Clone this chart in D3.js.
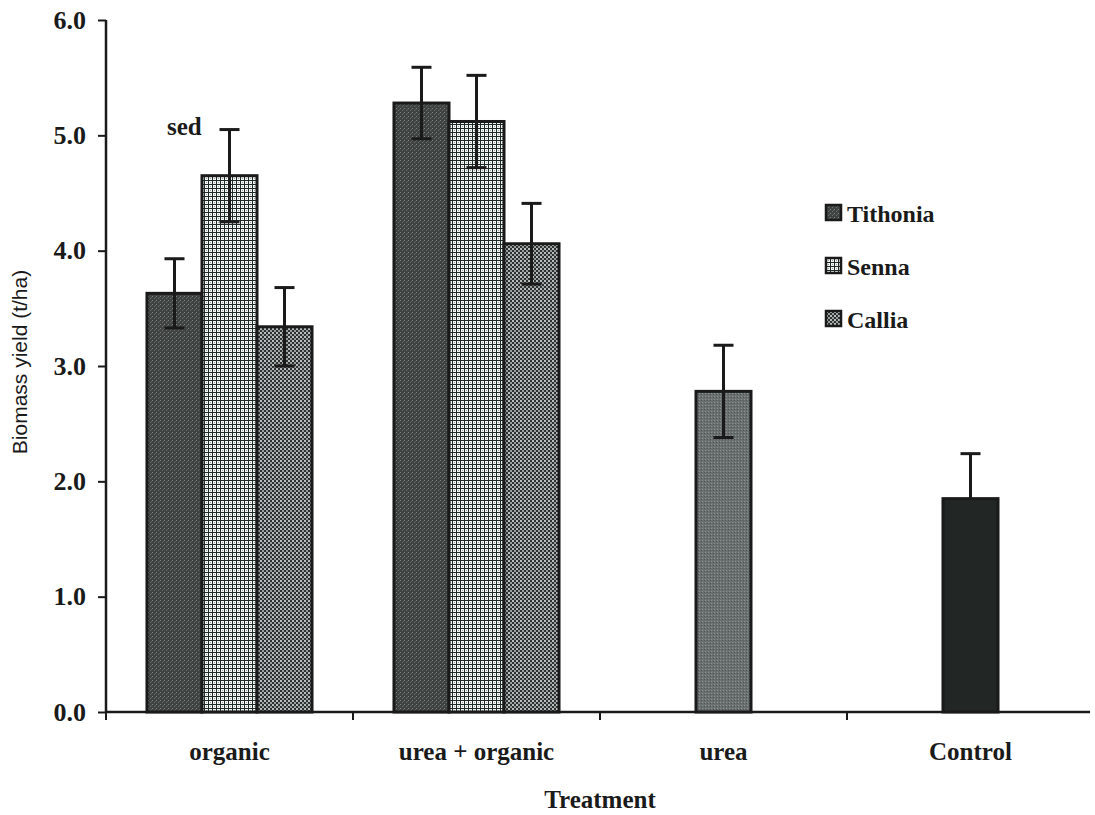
<!DOCTYPE html>
<html>
<head>
<meta charset="utf-8">
<script src="https://cdn.jsdelivr.net/npm/d3@7"></script>
<style>
  body { margin: 0; background: #fff; }
  text { fill: #1a1a1a; }
  .serif { font-family: "Liberation Serif", "DejaVu Serif", serif; font-weight: bold; }
</style>
</head>
<body>
<div class="graphic"></div>
<script>
// data
var treatments = ["organic", "urea + organic", "urea", "Control"];
var species = ["Tithonia", "Senna", "Callia"];
var organicVals = [3.63, 4.65, 3.34];
var organicSed = [0.30, 0.40, 0.34];
var ureaOrganicVals = [5.28, 5.12, 4.06];
var ureaOrganicSed = [0.31, 0.40, 0.35];
var singleVals = [2.78, 1.85];   // urea, Control
var singleSed = [0.40, 0.39];
var yTicks = [0, 1, 2, 3, 4, 5, 6];

var width = 1095, height = 815;
var svg = d3.select(".graphic").append("svg")
  .attr("width", width).attr("height", height);

var defs = svg.append("defs");

// Tithonia: dark speckled grey
var p1 = defs.append("pattern").attr("id", "pTith")
  .attr("patternUnits", "userSpaceOnUse").attr("width", 4).attr("height", 4);
p1.append("rect").attr("width", 4).attr("height", 4).attr("fill", "#3f4443");
p1.append("rect").attr("x", 0).attr("y", 0).attr("width", 1).attr("height", 1).attr("fill", "#7d8281");
p1.append("rect").attr("x", 2).attr("y", 2).attr("width", 1).attr("height", 1).attr("fill", "#6b706f");
p1.append("rect").attr("x", 3).attr("y", 1).attr("width", 1).attr("height", 1).attr("fill", "#5a5f5e");

// Senna: white cells in a dark grid
var p2 = defs.append("pattern").attr("id", "pSenna")
  .attr("patternUnits", "userSpaceOnUse").attr("width", 4).attr("height", 4);
p2.append("rect").attr("width", 4).attr("height", 4).attr("fill", "#1e2a28");
p2.append("rect").attr("x", 1).attr("y", 1).attr("width", 3).attr("height", 3).attr("fill", "#f4f6f4");
p2.append("rect").attr("x", 2).attr("y", 2).attr("width", 1).attr("height", 1).attr("fill", "#9aa09e");

// Callia: fine checker
var p3 = defs.append("pattern").attr("id", "pCallia")
  .attr("patternUnits", "userSpaceOnUse").attr("width", 4).attr("height", 4);
p3.append("rect").attr("width", 4).attr("height", 4).attr("fill", "#2c3231");
p3.append("rect").attr("x", 0).attr("y", 0).attr("width", 2).attr("height", 2).attr("fill", "#b9bebc");
p3.append("rect").attr("x", 2).attr("y", 2).attr("width", 2).attr("height", 2).attr("fill", "#9a9f9d");

// urea: mid grey speckle
var p4 = defs.append("pattern").attr("id", "pUrea")
  .attr("patternUnits", "userSpaceOnUse").attr("width", 3).attr("height", 3);
p4.append("rect").attr("width", 3).attr("height", 3).attr("fill", "#6a6f70");
p4.append("rect").attr("x", 0).attr("y", 0).attr("width", 1).attr("height", 1).attr("fill", "#8d9192");
p4.append("rect").attr("x", 2).attr("y", 1).attr("width", 1).attr("height", 1).attr("fill", "#505556");

var fills = { Tithonia: "url(#pTith)", Senna: "url(#pSenna)", Callia: "url(#pCallia)" };
var singleFills = ["url(#pUrea)", "#222726"];

var x = d3.scaleBand().domain(treatments).range([106, 1094]).padding(0);
var xs = d3.scaleBand().domain(species).range([0, x.bandwidth()])
  .paddingInner(0).paddingOuter(0.745);
var y = d3.scaleLinear().domain([0, 6]).range([712, 20]);

// y axis
var yAxis = svg.append("g").attr("transform", "translate(106,0)")
  .call(d3.axisLeft(y).tickValues(yTicks).tickFormat(d3.format(".1f")).tickSize(8).tickPadding(12));
yAxis.select(".domain").attr("stroke", "#1a1a1a").attr("stroke-width", 2.5).attr("d", "M0,20V712");
yAxis.selectAll(".tick line").attr("stroke", "#1a1a1a").attr("stroke-width", 2);
yAxis.selectAll(".tick text").attr("class", "serif").attr("font-size", 26).attr("fill", "#1a1a1a");

// x axis line + ticks at category boundaries
svg.append("line").attr("x1", 106).attr("x2", 1090).attr("y1", 712).attr("y2", 712)
  .attr("stroke", "#1a1a1a").attr("stroke-width", 2.5);
svg.selectAll(".xtick").data(treatments).enter().append("line")
  .attr("class", "xtick")
  .attr("x1", function(d) { return x(d); }).attr("x2", function(d) { return x(d); })
  .attr("y1", 712).attr("y2", 720)
  .attr("stroke", "#1a1a1a").attr("stroke-width", 2);
svg.selectAll(".xlab").data(treatments).enter().append("text")
  .attr("class", "serif")
  .attr("x", function(d) { return x(d) + x.bandwidth() / 2; })
  .attr("y", 760).attr("text-anchor", "middle").attr("font-size", 25)
  .text(function(d) { return d; });

// grouped bars
var groups = [
  { t: "organic", vals: organicVals, sed: organicSed },
  { t: "urea + organic", vals: ureaOrganicVals, sed: ureaOrganicSed }
];
var barRows = [];
groups.forEach(function(g) {
  species.forEach(function(s, i) {
    barRows.push({ x: x(g.t) + xs(s), w: xs.bandwidth(), v: g.vals[i], e: g.sed[i], fill: fills[s], low: true });
  });
});
["urea", "Control"].forEach(function(t, i) {
  // the lower whisker of the Control bar disappears into its black fill
  barRows.push({ x: x(t) + (x.bandwidth() - xs.bandwidth()) / 2, w: xs.bandwidth(), v: singleVals[i], e: singleSed[i], fill: singleFills[i], low: t != "Control" });
});

svg.selectAll(".bar").data(barRows).enter().append("rect")
  .attr("class", "bar")
  .attr("x", function(d) { return d.x; })
  .attr("y", function(d) { return y(d.v); })
  .attr("width", function(d) { return d.w; })
  .attr("height", function(d) { return y(0) - y(d.v); })
  .attr("fill", function(d) { return d.fill; })
  .attr("stroke", "#1a1a1a").attr("stroke-width", 3);

// error bars
var eb = svg.selectAll(".err").data(barRows).enter().append("g").attr("class", "err")
  .attr("stroke", "#1a1a1a").attr("stroke-width", 3);
eb.append("line")
  .attr("x1", function(d) { return d.x + d.w / 2; }).attr("x2", function(d) { return d.x + d.w / 2; })
  .attr("y1", function(d) { return y(d.v + d.e); })
  .attr("y2", function(d) { return d.low ? y(d.v - d.e) : y(d.v); });
eb.append("line")
  .attr("x1", function(d) { return d.x + d.w / 2 - 10; }).attr("x2", function(d) { return d.x + d.w / 2 + 10; })
  .attr("y1", function(d) { return y(d.v + d.e); }).attr("y2", function(d) { return y(d.v + d.e); });
eb.filter(function(d) { return d.low; }).append("line")
  .attr("x1", function(d) { return d.x + d.w / 2 - 10; }).attr("x2", function(d) { return d.x + d.w / 2 + 10; })
  .attr("y1", function(d) { return y(d.v - d.e); }).attr("y2", function(d) { return y(d.v - d.e); });

// sed label
svg.append("text").attr("class", "serif").attr("font-size", 25)
  .attr("x", 167).attr("y", 135).text("sed");

// legend
var leg = svg.selectAll(".leg").data(species).enter().append("g")
  .attr("class", "leg")
  .attr("transform", function(d, i) { return "translate(826," + (205 + i * 53) + ")"; });
leg.append("rect").attr("width", 15).attr("height", 15)
  .attr("fill", function(d) { return fills[d]; })
  .attr("stroke", "#1a1a1a").attr("stroke-width", 2.5);
leg.append("text").attr("class", "serif").attr("font-size", 24)
  .attr("x", 21).attr("y", 17).text(function(d) { return d; });

// axis titles
svg.append("text").attr("font-family", "'Liberation Sans', Arial, sans-serif")
  .attr("font-size", 21).attr("text-anchor", "middle")
  .attr("transform", "translate(27,362) rotate(-90)")
  .text("Biomass yield (t/ha)");
svg.append("text").attr("class", "serif").attr("font-size", 25).attr("text-anchor", "middle")
  .attr("x", 600).attr("y", 808).text("Treatment");
</script>
</body>
</html>
